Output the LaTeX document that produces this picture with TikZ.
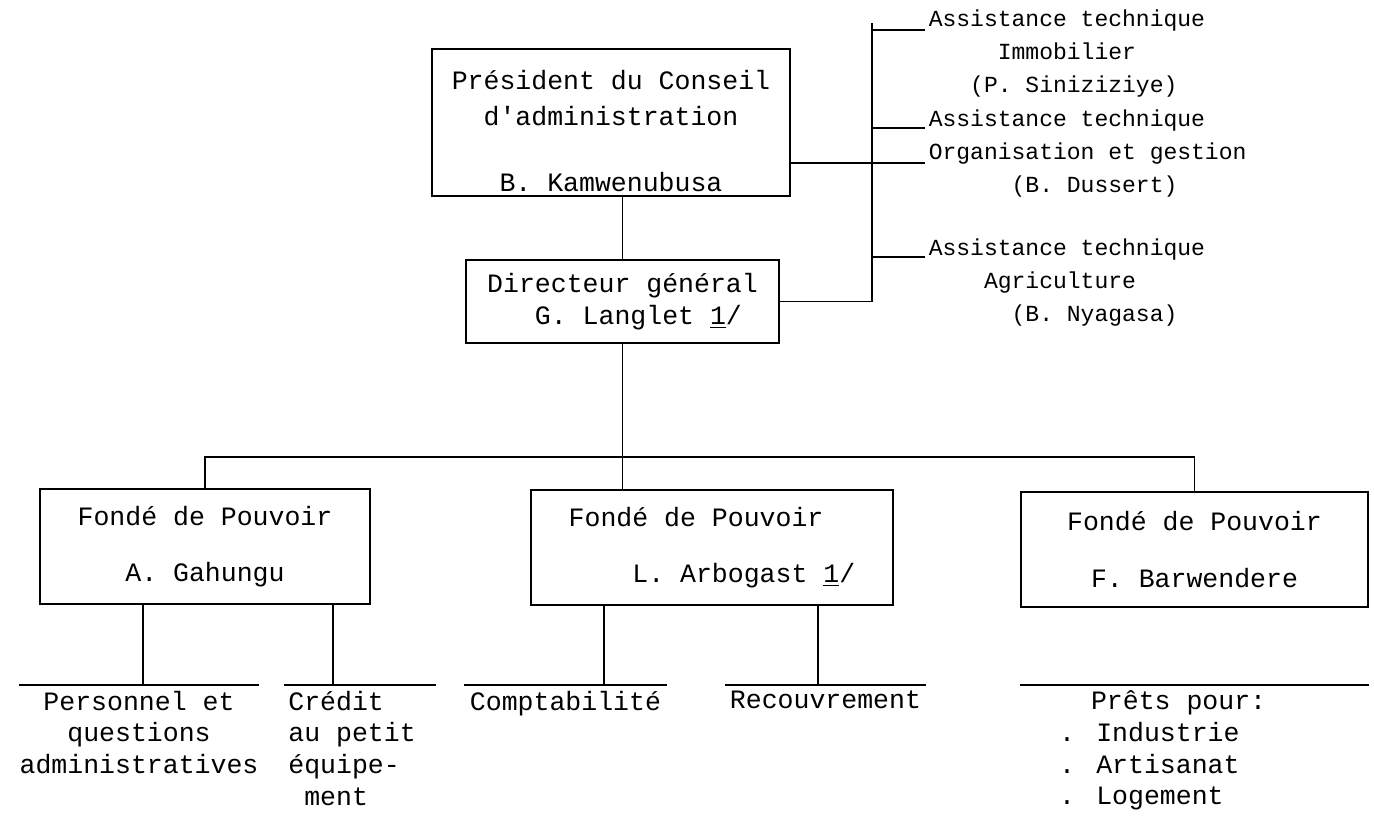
\documentclass[tikz,border=0pt]{standalone}
\usepackage{fontspec}
\setmainfont{Liberation Mono}
\begin{document}
\begin{tikzpicture}[x=0.02cm, y=-0.02cm, line width=0.9pt,
    box/.style={draw, align=center, inner sep=2pt, font=\fontsize{15.1}{18.6}\selectfont},
    assist/.style={align=left, inner sep=0pt, anchor=north west, font=\fontsize{13.1}{18.8}\selectfont},
    service/.style={anchor=north, inner xsep=0pt, inner ysep=3pt, font=\fontsize{15.1}{18}\selectfont}]
    \useasboundingbox (0,0) rectangle (1374,818);
    % Direction
    \node[box, minimum width=7.16cm, minimum height=2.94cm] (pres) at (611,122.5)
        {\rule{0pt}{21pt}Président du Conseil\\[2pt]d\textquotesingle administration\\[19pt]B. Kamwenubusa};
    \node[box, align=left, minimum width=6.26cm, minimum height=1.66cm] (dir) at (622.5,301.5)
        {Directeur général\\\hphantom{xxx}G. Langlet \underline{1}/};
    \draw (pres.south -| dir.north) -- (dir.north);
    % Assistance technique
    \node[assist] (as1) at (928,9)
        {Assistance technique\\\hphantom{xxxxx}Immobilier\\\hphantom{xxx}(P. Siniziziye)};
    \node[assist] (as2) at (928,109)
        {Assistance technique\\Organisation et gestion\\\hphantom{xxxxxx}(B. Dussert)};
    \node[assist] (as3) at (928,238)
        {Assistance technique\\\hphantom{xxxx}Agriculture\\\hphantom{xxxxxx}(B. Nyagasa)};
    \coordinate (spine) at (872,23);
    \coordinate (a1) at (925,30);
    \coordinate (a2) at (925,128);
    \coordinate (a3) at (925,257);
    \coordinate (orgline) at (925,163);
    \draw (dir.east) -| (spine);
    \foreach \a in {a1, a2, a3}
        \draw (spine |- \a) -- (\a);
    \draw (pres.east |- orgline) -- (orgline);
    % Fondes de pouvoir
    \node[box, minimum width=6.6cm, minimum height=2.3cm] (fA) at (205,546.5)
        {Fondé de Pouvoir\\[13.5pt]A. Gahungu};
    \node[box, align=left, minimum width=7.24cm, minimum height=2.3cm] (fL) at (712,547.5)
        {Fondé de Pouvoir\\[13.5pt]\hphantom{xxxx}L. Arbogast \underline{1}/};
    \node[box, minimum width=6.94cm, minimum height=2.3cm] (fF) at (1194.5,549.5)
        {Fondé de Pouvoir\\[13.5pt]F. Barwendere};
    \coordinate (bus) at (627,457);
    \draw (fA.north) |- (bus) -| (fF.north);
    \draw (dir.south) -- (dir.south |- fL.north);
    % Services
    \node[service, minimum width=4.64cm, align=center] (pers) at (139,685)
        {Personnel et\\questions\\administratives};
    \node[service, minimum width=3cm, align=left] (cred) at (360,685)
        {Crédit\\au petit\hphantom{x}\\équipe-\\\hphantom{x}ment};
    \node[service, minimum width=4.02cm, align=center] (compt) at (565.5,685) {Comptabilité};
    \node[service, minimum width=3.98cm, align=center] (recouv) at (825.5,685) {Recouvrement};
    \node[service, minimum width=6.94cm, align=left] (prets) at (1194.5,685)
        {\hphantom{xx}Prêts pour:\hphantom{xxxx}\\. Industrie\\. Artisanat\\. Logement};
    \foreach \s in {pers, cred, compt, recouv, prets}
        \draw (\s.north west) -- (\s.north east);
    \coordinate (dA1) at (143,0);
    \coordinate (dA2) at (333,0);
    \coordinate (dL1) at (604,0);
    \coordinate (dL2) at (818,0);
    \draw (fA.south -| dA1) -- (pers.north -| dA1);
    \draw (fA.south -| dA2) -- (cred.north -| dA2);
    \draw (fL.south -| dL1) -- (compt.north -| dL1);
    \draw (fL.south -| dL2) -- (recouv.north -| dL2);
\end{tikzpicture}
\end{document}
